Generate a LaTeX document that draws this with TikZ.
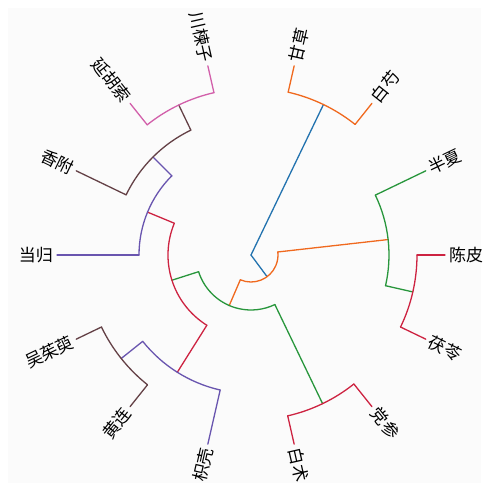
\documentclass[tikz,border=0pt]{standalone}
\usepackage{fontspec}
\newfontfamily\cjk{Noto Sans CJK SC}
\definecolor{bgc}{RGB}{251,251,251}
\definecolor{cblue}{RGB}{35,115,175}
\definecolor{corange}{RGB}{240,105,30}
\definecolor{cgreen}{RGB}{40,150,60}
\definecolor{cred}{RGB}{205,35,65}
\definecolor{cpurple}{RGB}{105,85,175}
\definecolor{cbrown}{RGB}{100,65,70}
\definecolor{cpink}{RGB}{210,95,170}
\newcommand\branch[5]{%
  \coordinate (#1f) at (#2:#3pt);
  \coordinate (#1) at (#2:#4pt);
  \draw[branchline,#5] (#1f) -- (#1);}
\newcommand\junction[4]{%
  \draw[branchline,#4] (#1:#3pt) arc[start angle=#1,end angle=#2,radius=#3pt];}
\newcommand\rlab[3]{\node[leaflab,anchor=west,rotate=#2] (#1t) at (#2:198pt) {#3};}
\newcommand\llab[3]{\node[leaflab,anchor=east,rotate=#2-180] (#1t) at (#2:198pt) {#3};}
\begin{document}
\begin{tikzpicture}[x=1pt,y=1pt,
  branchline/.style={line width=1.3pt, line cap=round, line join=round},
  leaflab/.style={font=\cjk\fontsize{17}{17}\selectfont, inner sep=0pt, text=black}]
\useasboundingbox (0,0) rectangle (487,488);
\fill[white] (0,0) rectangle (487,488);
\fill[bgc] (8,5) rectangle (481,480);
\begin{scope}[shift={(251,233)}]
\coordinate (root) at (0,0);
% root
\branch{A}{64.286}{0}{167}{cblue}
\branch{B}{306.56}{0}{27}{cblue}
% A
\junction{51.429}{77.143}{167}{corange}
\branch{gancao}{77.143}{167}{194}{corange}
\branch{baishao}{51.429}{167}{194}{corange}
% B
\junction{246.696}{366.429}{27}{corange}
\branch{C}{6.429}{27}{138}{corange}
\branch{D}{246.696}{27}{55}{corange}
% C
\junction{-12.857}{25.714}{138}{cgreen}
\branch{banxia}{25.714}{138}{194}{cgreen}
\branch{E}{-12.857}{138}{166}{cgreen}
% E
\junction{-25.714}{0}{166}{cred}
\branch{chenpi}{0}{166}{194}{cred}
\branch{fuling}{-25.714}{166}{194}{cred}
% D
\junction{197.679}{295.714}{55}{cgreen}
\branch{F}{197.679}{55}{83}{cgreen}
\branch{G}{295.714}{55}{165}{cgreen}
% G
\junction{282.857}{308.571}{165}{cred}
\branch{baizhu}{282.857}{165}{194}{cred}
\branch{dangshen}{308.571}{165}{194}{cred}
% F
\junction{157.5}{237.857}{83}{cred}
\branch{H}{157.5}{83}{112}{cred}
\branch{I}{237.857}{83}{138.5}{cred}
% I
\junction{218.571}{257.143}{138.5}{cpurple}
\branch{J}{218.571}{138.5}{166}{cpurple}
\branch{zhiqiao}{257.143}{138.5}{194}{cpurple}
% J
\junction{205.714}{231.429}{166}{cbrown}
\branch{wuzhuyu}{205.714}{166}{194}{cbrown}
\branch{huanglian}{231.429}{166}{194}{cbrown}
% H
\junction{135}{180}{112}{cpurple}
\branch{danggui}{180}{112}{194}{cpurple}
\branch{K}{135}{112}{138.6}{cpurple}
% K
\junction{115.714}{154.286}{138.6}{cbrown}
\branch{xiangfu}{154.286}{138.6}{194}{cbrown}
\branch{L}{115.714}{138.6}{166.5}{cbrown}
% L
\junction{102.857}{128.571}{166.5}{cpink}
\branch{chuanlianzi}{102.857}{166.5}{194}{cpink}
\branch{yanhusuo}{128.571}{166.5}{194}{cpink}
% labels
\rlab{chenpi}{0}{陈皮}
\rlab{banxia}{25.714}{半夏}
\rlab{baishao}{51.429}{白芍}
\rlab{gancao}{77.143}{甘草}
\llab{chuanlianzi}{102.857}{川楝子}
\llab{yanhusuo}{128.571}{延胡索}
\llab{xiangfu}{154.286}{香附}
\llab{danggui}{180}{当归}
\llab{wuzhuyu}{205.714}{吴茱萸}
\llab{huanglian}{231.429}{黄连}
\llab{zhiqiao}{257.143}{枳壳}
\rlab{baizhu}{282.857}{白术}
\rlab{dangshen}{308.571}{党参}
\rlab{fuling}{334.286}{茯苓}
\end{scope}
\end{tikzpicture}
\end{document}
